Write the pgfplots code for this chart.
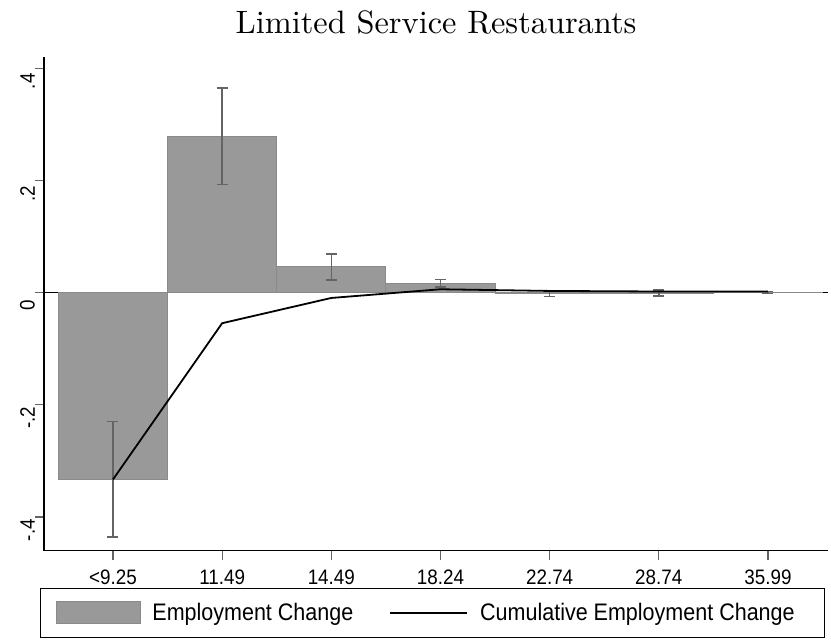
\documentclass[border=0pt]{standalone}
\usepackage{pgfplots}
\pgfplotsset{compat=1.18}
\usepackage{fontspec}
\newfontfamily\statafont[FakeStretch=0.9]{Liberation Sans}
\newfontfamily\titlefont{lmroman10-regular.otf}
\definecolor{barfill}{RGB}{153,153,153}
\definecolor{baredge}{RGB}{138,138,138}
\definecolor{errc}{RGB}{100,100,100}
\begin{document}
\begin{tikzpicture}
\useasboundingbox (-44bp,-89.3bp) rectangle (787bp,550.7bp);
\begin{axis}[
 scale only axis, width=784bp, height=493.7bp,
 xmin=-0.632, xmax=6.55, ymin=-0.46, ymax=0.42,
 axis x line*=bottom, axis y line*=left,
 axis line style={black, line width=1.3bp, -},
 xtick={0,1,2,3,4,5,6},
 xticklabels={<9.25,11.49,14.49,18.24,22.74,28.74,35.99},
 ytick={-0.4,-0.2,0,0.2,0.4},
 yticklabels={-.4,-.2,0,.2,.4},
 tick align=outside, major tick length=9bp,
 tick style={errc, line width=1.3bp},
 ticklabel style={font=\statafont\fontsize{21}{25}\selectfont},
 xticklabel style={anchor=north, inner sep=0pt, yshift=-10bp},
 yticklabel style={rotate=90, anchor=south, inner sep=0pt, xshift=-13bp},
 title={Limited Service Restaurants},
 title style={font=\titlefont\fontsize{32.5}{38}\selectfont, at={(0.5,1)}, anchor=base, yshift=18bp},
 legend style={at={(-0.0051,-0.075)}, anchor=north west, draw=black, line width=1.2bp,
   legend columns=2, font=\statafont\fontsize{24}{28}\selectfont,
   inner xsep=15bp, inner ysep=13bp,
   /tikz/every odd column/.append style={column sep=10bp},
   /tikz/every even column/.append style={column sep=34bp}},
 legend cell align=left,
]
\addplot[black, line width=1.3bp, forget plot] coordinates {(-0.632,0) (6.55,0)};
\addplot[ybar, bar width=1, fill=barfill, draw=baredge, line width=0.8bp,
  error bars/.cd, y dir=both, y explicit,
  error bar style={errc, line width=1.6bp},
  error mark options={errc, line width=1.6bp, mark size=5.5bp, rotate=90},
  /pgfplots/legend image code/.code={\fill[barfill, draw=baredge] (0bp,-11bp) rectangle (84bp,11bp);}]
 coordinates {
 (0,-0.333) +- (0,0.103)
 (1,0.279) +- (0,0.086)
 (2,0.046) +- (0,0.023)
 (3,0.0167) +- (0,0.0065)
 (4,-0.002) +- (0,0.0048)
 (5,-0.0005) +- (0,0.0055)
 (6,0.0003) +- (0,0.002)
 };
\addlegendentry{Employment Change}
\addplot[black, line width=1.8bp, mark=none,
  legend image code/.code={\draw[black, line width=1.8bp] (0bp,0bp) -- (77bp,0bp);}]
 coordinates {(0,-0.333) (1,-0.0545) (2,-0.0095) (3,0.006) (4,0.003) (5,0.002) (6,0.002)};
\addlegendentry{\makebox[327bp][l]{Cumulative Employment Change}}
\end{axis}
\end{tikzpicture}
\end{document}
